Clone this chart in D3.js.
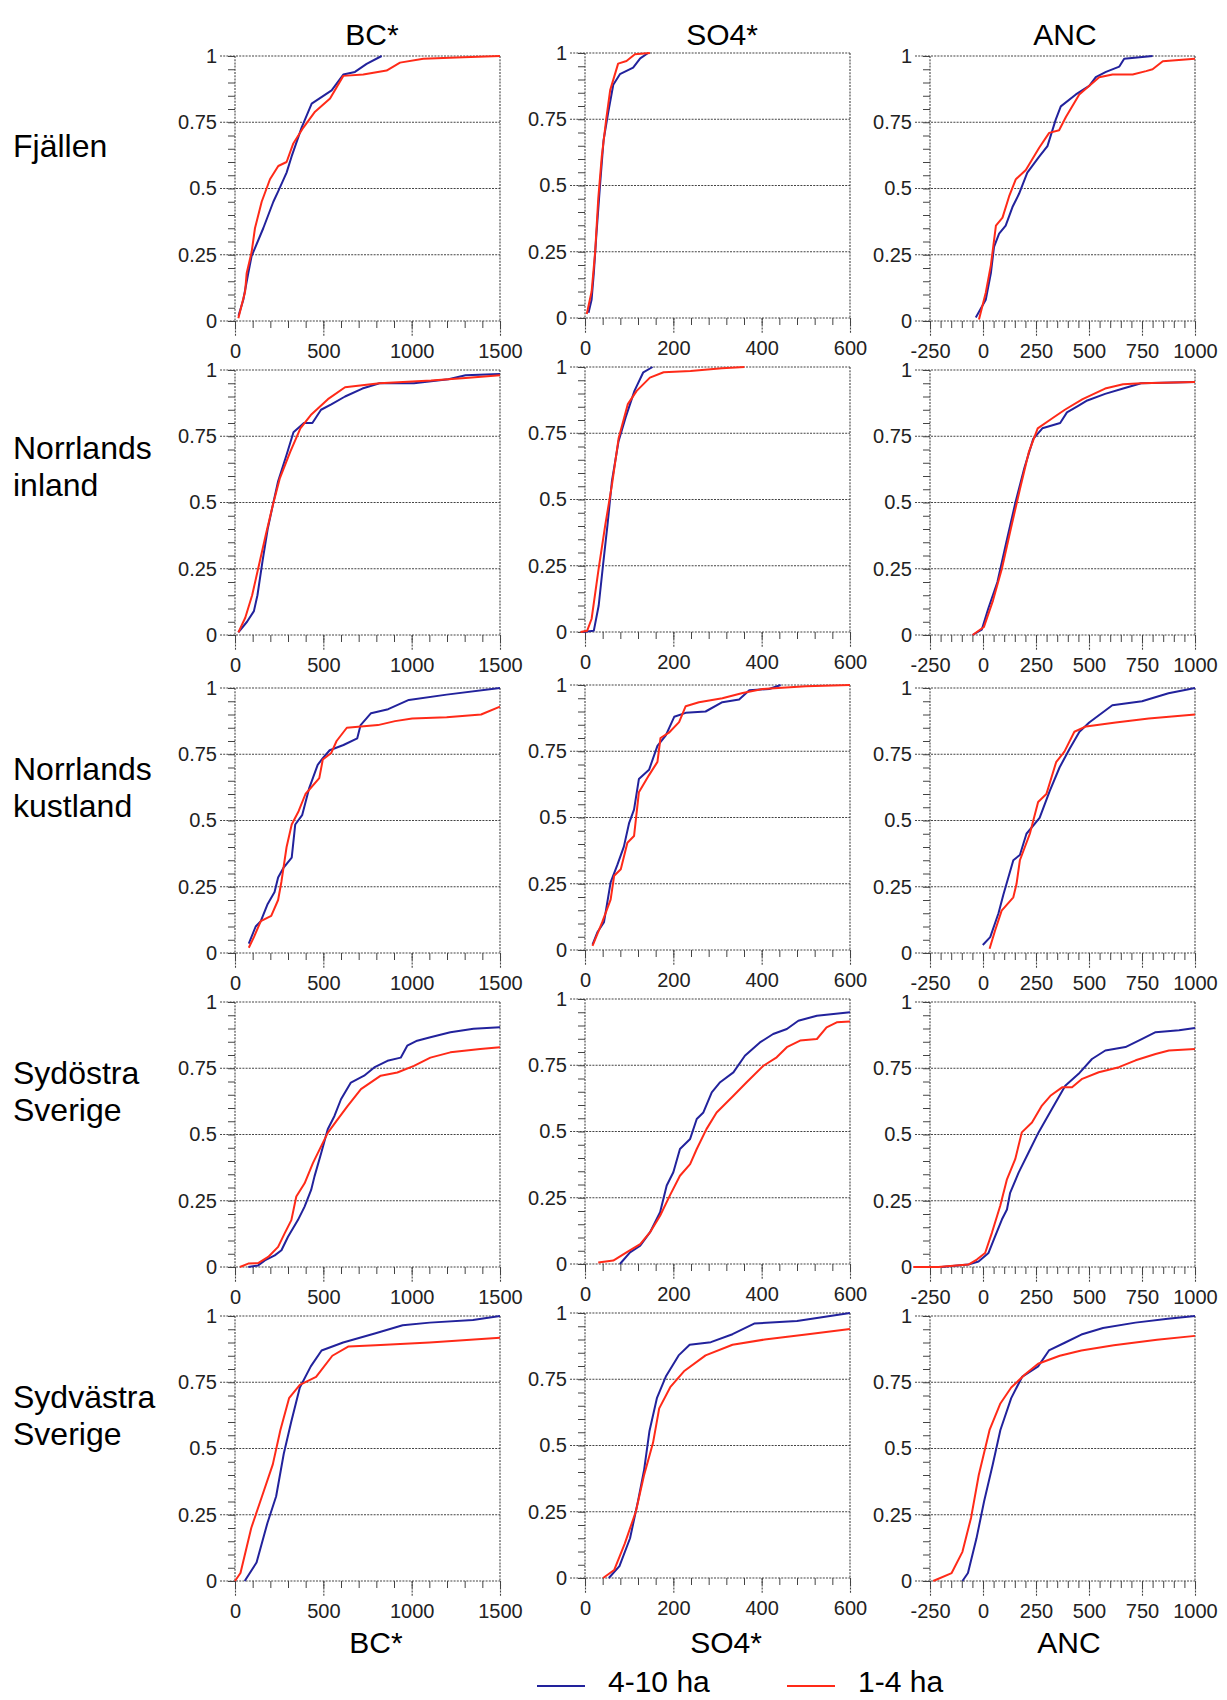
<!DOCTYPE html>
<html>
<head>
<meta charset="utf-8">
<title>Kumulativa fördelningar</title>
<script src="https://d3js.org/d3.v7.min.js"></script>
<style>
  body { margin: 0; background: #fff; }
  svg text { font-family: "Liberation Sans", Arial, sans-serif; }
  .dots { stroke: #444; stroke-width: 1.1; stroke-dasharray: 2,1.2; fill: none; }
  .minor line { stroke: #444; stroke-width: 1; }
  .minor path { display: none; }
  .tick text { fill: #222; font-size: 20px; }
</style>
</head>
<body>
<svg width="1227" height="1700"></svg>
<script>
// ----- chart content -------------------------------------------------
var variables = ["BC*", "SO4*", "ANC"];
var regions = [["Fjällen"], ["Norrlands", "inland"], ["Norrlands", "kustland"],
               ["Sydöstra", "Sverige"], ["Sydvästra", "Sverige"]];
var seriesNames = ["4-10 ha", "1-4 ha"];
var xDomains = [[0, 1500], [0, 600], [-250, 1000]];
var xTicks = [[0, 500, 1000, 1500], [0, 200, 400, 600], [-250, 0, 250, 500, 750, 1000]];
var xMinorStep = [100, 40, 50];
var yTicks = [0, 0.25, 0.5, 0.75, 1];
var yLabels = ["0", "0.25", "0.5", "0.75", "1"];

// ----- cumulative curves, [value, fraction] -----
// Fjällen
var fjBc4 = [[20,0.02],[47,0.08],[75,0.18],[94,0.245],[160,0.35],[217,0.45],[245,0.49],[292,0.56],[320,0.62],[377,0.73],[434,0.82],[547,0.87],[613,0.93],[679,0.94],[745,0.97],[830,1]];
var fjBc1 = [[19,0.01],[57,0.11],[66,0.18],[94,0.26],[113,0.35],[151,0.45],[198,0.535],[245,0.585],[292,0.6],[330,0.67],[387,0.73],[453,0.79],[538,0.84],[613,0.925],[726,0.93],[858,0.945],[934,0.975],[1066,0.99],[1292,0.995],[1500,1]];
var fjSo4 = [[8,0.02],[15,0.07],[20,0.17],[26,0.32],[34,0.5],[42,0.67],[53,0.78],[64,0.88],[79,0.92],[109,0.945],[125,0.98],[143,1]];
var fjSo1 = [[4,0.015],[15,0.1],[23,0.25],[30,0.45],[38,0.61],[48,0.75],[57,0.86],[75,0.96],[94,0.97],[113,0.995],[147,1]];
var fjAnc4 = [[-34,0.013],[13,0.08],[37,0.18],[52,0.28],[76,0.33],[107,0.36],[139,0.43],[170,0.48],[209,0.56],[265,0.62],[304,0.66],[343,0.76],[367,0.81],[438,0.855],[501,0.887],[532,0.92],[580,0.94],[643,0.96],[666,0.99],[800,1]];
var fjAnc1 = [[-19,0.006],[13,0.107],[37,0.21],[61,0.36],[92,0.39],[123,0.47],[155,0.535],[202,0.57],[265,0.654],[312,0.71],[359,0.72],[391,0.77],[454,0.855],[548,0.92],[611,0.93],[706,0.93],[769,0.943],[800,0.95],[848,0.98],[1000,0.99]];
// Norrlands inland
var niBc4 = [[19,0.01],[68,0.05],[107,0.09],[127,0.15],[156,0.28],[185,0.4],[214,0.49],[244,0.58],[292,0.68],[331,0.765],[390,0.8],[438,0.8],[487,0.85],[545,0.87],[623,0.9],[721,0.93],[818,0.95],[1013,0.95],[1208,0.965],[1305,0.98],[1500,0.985]];
var niBc1 = [[19,0.01],[58,0.065],[97,0.15],[136,0.265],[175,0.38],[214,0.49],[253,0.59],[312,0.69],[370,0.78],[429,0.83],[526,0.89],[623,0.935],[818,0.95],[1110,0.96],[1305,0.97],[1500,0.98]];
var niSo4 = [[-5,0],[20,0.005],[31,0.1],[41,0.255],[51,0.405],[61,0.57],[76,0.72],[92,0.81],[112,0.91],[132,0.98],[153,1]];
var niSo1 = [[-10,0],[5,0.005],[15,0.05],[31,0.24],[46,0.405],[61,0.555],[76,0.73],[97,0.86],[117,0.91],[147,0.96],[178,0.98],[239,0.985],[310,0.995],[361,1]];
var niAnc4 = [[-49,0],[-6,0.02],[25,0.1],[68,0.2],[110,0.35],[153,0.5],[195,0.63],[237,0.74],[280,0.78],[364,0.8],[396,0.84],[449,0.865],[492,0.885],[576,0.91],[661,0.93],[746,0.95],[1000,0.955]];
var niAnc1 = [[-49,0],[4,0.03],[47,0.13],[89,0.25],[131,0.4],[174,0.55],[216,0.69],[258,0.78],[322,0.815],[386,0.85],[470,0.89],[576,0.93],[661,0.946],[746,0.95],[1000,0.955]];
// Norrlands kustland
var nkBc4 = [[78,0.035],[117,0.1],[146,0.12],[185,0.185],[224,0.23],[244,0.285],[273,0.32],[321,0.36],[341,0.485],[380,0.52],[419,0.62],[468,0.71],[497,0.735],[536,0.765],[614,0.785],[692,0.81],[711,0.86],[770,0.905],[867,0.92],[984,0.955],[1198,0.975],[1500,1]];
var nkBc1 = [[78,0.02],[107,0.06],[146,0.12],[205,0.14],[244,0.2],[263,0.27],[292,0.4],[321,0.485],[360,0.535],[399,0.6],[477,0.66],[497,0.73],[545,0.755],[575,0.8],[633,0.85],[809,0.86],[906,0.875],[1003,0.885],[1198,0.89],[1393,0.9],[1500,0.93]];
var nkSo4 = [[17,0.02],[28,0.067],[43,0.105],[58,0.255],[73,0.32],[88,0.39],[100,0.48],[111,0.53],[122,0.645],[145,0.68],[164,0.77],[183,0.81],[202,0.88],[228,0.895],[273,0.9],[311,0.935],[349,0.945],[372,0.98],[417,0.985],[443,1]];
var nkSo1 = [[17,0.016],[39,0.105],[58,0.19],[66,0.28],[81,0.305],[96,0.405],[111,0.43],[122,0.595],[145,0.66],[164,0.71],[171,0.8],[190,0.82],[213,0.86],[228,0.92],[258,0.935],[311,0.95],[357,0.97],[402,0.985],[500,0.995],[600,1]];
var nkAnc4 = [[-1,0.03],[34,0.06],[73,0.15],[96,0.22],[143,0.35],[174,0.37],[205,0.45],[267,0.51],[314,0.61],[361,0.7],[408,0.77],[455,0.835],[501,0.87],[610,0.935],[750,0.95],[875,0.98],[1000,1]];
var nkAnc1 = [[31,0.016],[57,0.085],[88,0.16],[143,0.21],[158,0.26],[174,0.35],[221,0.45],[260,0.57],[299,0.6],[345,0.72],[384,0.76],[431,0.835],[486,0.855],[626,0.87],[782,0.885],[1000,0.9]];
// Sydöstra Sverige
var soBc4 = [[75,0],[131,0.006],[169,0.025],[225,0.044],[263,0.063],[300,0.114],[356,0.177],[394,0.228],[431,0.291],[450,0.342],[488,0.43],[525,0.52],[563,0.57],[600,0.633],[656,0.696],[731,0.722],[788,0.753],[863,0.778],[938,0.79],[975,0.835],[1031,0.854],[1106,0.867],[1219,0.886],[1350,0.899],[1500,0.905]];
var soBc1 = [[28,0],[75,0.013],[131,0.015],[188,0.038],[244,0.076],[281,0.127],[319,0.177],[347,0.266],[394,0.316],[441,0.392],[488,0.456],[525,0.506],[581,0.557],[638,0.608],[713,0.671],[825,0.722],[919,0.734],[1013,0.759],[1106,0.79],[1219,0.81],[1388,0.823],[1500,0.829]];
var soSo4 = [[79,0],[102,0.044],[125,0.069],[147,0.119],[170,0.195],[185,0.296],[200,0.346],[215,0.434],[238,0.472],[253,0.547],[268,0.572],[287,0.648],[306,0.686],[336,0.723],[362,0.786],[396,0.836],[426,0.868],[457,0.887],[483,0.918],[525,0.937],[600,0.95]];
var soSo1 = [[30,0.006],[64,0.013],[94,0.044],[125,0.075],[147,0.119],[170,0.182],[192,0.258],[215,0.333],[238,0.377],[253,0.434],[275,0.509],[298,0.572],[336,0.635],[366,0.686],[404,0.748],[434,0.78],[457,0.818],[487,0.843],[525,0.849],[547,0.893],[570,0.912],[600,0.915]];
var soAnc4 = [[-195,0],[-69,0.009],[-21,0.021],[26,0.053],[57,0.116],[89,0.179],[113,0.217],[128,0.28],[168,0.356],[215,0.432],[262,0.508],[325,0.596],[388,0.684],[451,0.729],[514,0.785],[577,0.817],[672,0.83],[751,0.861],[814,0.886],[925,0.893],[1000,0.902]];
var soAnc1 = [[-329,0],[-211,0],[-69,0.009],[-29,0.028],[10,0.053],[42,0.129],[81,0.23],[113,0.331],[152,0.407],[183,0.508],[231,0.545],[278,0.609],[318,0.646],[373,0.678],[420,0.678],[468,0.71],[546,0.735],[641,0.754],[720,0.78],[814,0.804],[877,0.817],[1000,0.823]];
// Sydvästra Sverige
var svBc4 = [[55,0],[122,0.07],[184,0.22],[233,0.32],[276,0.48],[318,0.6],[367,0.73],[429,0.81],[490,0.87],[612,0.9],[796,0.935],[949,0.965],[1102,0.975],[1347,0.985],[1500,1]];
var svBc1 = [[0,0],[31,0.03],[92,0.2],[153,0.32],[214,0.44],[257,0.57],[306,0.69],[367,0.74],[459,0.77],[551,0.85],[643,0.885],[796,0.89],[1102,0.9],[1500,0.918]];
var svSo4 = [[54,0],[78,0.045],[102,0.15],[120,0.29],[134,0.41],[146,0.555],[163,0.68],[183,0.76],[212,0.84],[237,0.88],[285,0.89],[334,0.92],[383,0.96],[480,0.97],[600,1]];
var svSo1 = [[41,0],[66,0.03],[90,0.13],[115,0.25],[134,0.39],[154,0.51],[168,0.64],[193,0.72],[224,0.78],[273,0.84],[334,0.88],[407,0.9],[505,0.92],[600,0.94]];
var svAnc4 = [[-97,0],[-71,0.03],[-31,0.16],[5,0.3],[46,0.44],[82,0.57],[133,0.69],[184,0.77],[260,0.81],[311,0.87],[388,0.9],[464,0.93],[566,0.955],[719,0.975],[872,0.99],[1000,1]];
var svAnc1 = [[-235,0],[-148,0.03],[-97,0.11],[-56,0.24],[-20,0.4],[31,0.57],[82,0.67],[133,0.73],[199,0.78],[260,0.82],[362,0.85],[464,0.87],[617,0.89],[821,0.91],[1000,0.925]];

var panels = [
  [[fjBc4, fjBc1], [fjSo4, fjSo1], [fjAnc4, fjAnc1]],
  [[niBc4, niBc1], [niSo4, niSo1], [niAnc4, niAnc1]],
  [[nkBc4, nkBc1], [nkSo4, nkSo1], [nkAnc4, nkAnc1]],
  [[soBc4, soBc1], [soSo4, soSo1], [soAnc4, soAnc1]],
  [[svBc4, svBc1], [svSo4, svSo1], [svAnc4, svAnc1]]
];

// ----- layout --------------------------------------------------------
var colLeft = [235, 585, 930],
    colDy = [0, -3, 0],
    rowTop = [56, 370, 688, 1002, 1316],
    size = 265,
    colors = ["#22229c", "#ff2a18"];
var labelBase = [[157], [459, 496], [780, 817], [1084, 1121], [1408, 1445]];

var svg = d3.select("svg");

var y = d3.scaleLinear().domain([0, 1]).range([size, 0]);
var yMinor = d3.range(0, 1.0001, 0.05);

panels.forEach(function(row, r) {
  row.forEach(function(series, c) {
    var x = d3.scaleLinear().domain(xDomains[c]).range([0, size]);
    var g = svg.append("g")
        .attr("transform", "translate(" + colLeft[c] + "," + (rowTop[r] + colDy[c]) + ")");

    // minor ticks
    g.append("g").attr("class", "minor")
        .call(d3.axisLeft(y).tickValues(yMinor).tickSize(7).tickFormat(""));
    g.append("g").attr("class", "minor")
        .attr("transform", "translate(0," + size + ")")
        .call(d3.axisBottom(x).tickValues(d3.range(xDomains[c][0], xDomains[c][1] + 1, xMinorStep[c]))
          .tickSize(7).tickFormat(""));

    // dotted grid + frame
    g.selectAll(".hgrid").data(yTicks).enter().append("line")
        .attr("class", "dots")
        .attr("x1", -15).attr("x2", size)
        .attr("y1", function(d) { return y(d); }).attr("y2", function(d) { return y(d); });
    g.selectAll(".vgrid").data(xDomains[c]).enter().append("line")
        .attr("class", "dots")
        .attr("x1", function(d) { return x(d); }).attr("x2", function(d) { return x(d); })
        .attr("y1", 0).attr("y2", size);

    // labelled axes
    var ya = g.append("g")
        .call(d3.axisLeft(y).tickValues(yTicks).tickSize(0).tickPadding(18)
          .tickFormat(function(d, i) { return yLabels[i]; }));
    ya.select(".domain").remove();
    var xa = g.append("g")
        .attr("transform", "translate(0," + size + ")")
        .call(d3.axisBottom(x).tickValues(xTicks[c]).tickSize(15).tickSizeOuter(0).tickPadding(8)
          .tickFormat(function(d) { return String(d); }));
    xa.select(".domain").remove();
    xa.selectAll(".tick line").attr("class", "dots");

    // curves
    var line = d3.line().x(function(d) { return x(d[0]); }).y(function(d) { return y(d[1]); });
    series.forEach(function(s, k) {
      g.append("path")
          .datum(s)
          .attr("d", line)
          .attr("fill", "none")
          .attr("stroke", colors[k])
          .attr("stroke-width", 2)
          .attr("stroke-linejoin", "round");
    });
  });
});

// column titles, top and bottom
var titleX = [372, 722, 1065];
variables.forEach(function(v, c) {
  svg.append("text").attr("x", titleX[c]).attr("y", 45)
      .attr("text-anchor", "middle").attr("font-size", 30).text(v);
  svg.append("text").attr("x", titleX[c] + 4).attr("y", 1653)
      .attr("text-anchor", "middle").attr("font-size", 30).text(v);
});

// region labels
regions.forEach(function(lines, r) {
  lines.forEach(function(t, i) {
    svg.append("text").attr("x", 13).attr("y", labelBase[r][i])
        .attr("font-size", 32).text(t);
  });
});

// legend
var legX = [537, 787];
seriesNames.forEach(function(name, k) {
  svg.append("line")
      .attr("x1", legX[k]).attr("x2", legX[k] + 48)
      .attr("y1", 1686).attr("y2", 1686)
      .attr("stroke", colors[k]).attr("stroke-width", 2);
  svg.append("text").attr("x", legX[k] + 71).attr("y", 1692)
      .attr("font-size", 30).text(name);
});
</script>
</body>
</html>
